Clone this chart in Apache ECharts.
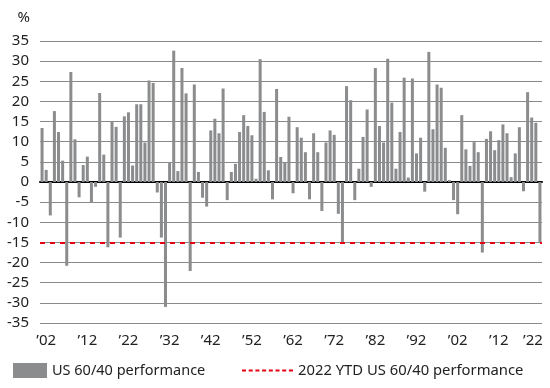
<!DOCTYPE html>
<html><head><meta charset="utf-8">
<script src="https://cdn.jsdelivr.net/npm/echarts@6/dist/echarts.min.js"></script>
<style>html,body{margin:0;padding:0;background:#fff}#c{width:550px;height:388px}</style>
</head><body><div id="c"></div>
<script>
// Categories: calendar years 1901 .. 2022
const startYear = 1901, endYear = 2022;
const years = [];
for (let y = startYear; y <= endYear; y++) years.push(String(y));

// Annual US 60/40 performance, % (1901 .. 2022, 2022 = YTD)
const performance = [
  13.4, 3.0, -8.3, 17.6, 12.4, 5.3, -20.8, 27.3, 10.6, -3.8,   // 1901-1910
  4.2, 6.3, -5.2, -1.2, 22.1, 6.8, -16.2, 15.0, 13.7, -13.8,   // 1911-1920
  16.3, 17.3, 4.1, 19.3, 19.3, 9.8, 25.2, 24.6, -2.6, -13.8,   // 1921-1930
  -31.0, 4.7, 32.6, 2.7, 28.3, 22.0, -22.1, 24.2, 2.5, -3.9,   // 1931-1940
  -6.1, 12.8, 15.7, 12.1, 23.2, -4.5, 2.5, 4.5, 12.4, 16.6,    // 1941-1950
  13.9, 11.6, 0.8, 30.5, 17.4, 2.9, -4.3, 23.1, 6.2, 4.8,      // 1951-1960
  16.2, -2.8, 13.6, 11.0, 7.4, -4.3, 12.1, 7.4, -7.2, 9.8,     // 1961-1970
  12.8, 11.7, -7.9, -15.1, 23.8, 20.3, -4.5, 3.3, 11.2, 18.0,  // 1971-1980
  -1.2, 28.3, 13.9, 9.8, 30.6, 19.7, 3.3, 12.4, 25.9, 1.1,     // 1981-1990
  25.7, 7.1, 11.0, -2.4, 32.3, 13.1, 24.2, 23.4, 8.5, 0.5,     // 1991-2000
  -4.5, -8.0, 16.6, 8.1, 4.0, 9.9, 7.4, -17.5, 10.7, 12.6,     // 2001-2010
  7.9, 10.4, 14.3, 12.1, 1.2, 7.1, 13.6, -2.3, 22.3, 16.0,     // 2011-2020
  14.7, -15.1                                                  // 2021-2022
];

// 2022 YTD reference level, %
const ytdLevel = -15;

// Axis ticks
const tickYears = ['1902','1912','1922','1932','1942','1952','1962','1972','1982','1992','2002','2012','2022'];
const tickLabels = ['\u201902','\u201912','\u201922','\u201932','\u201942','\u201952','\u201962','\u201972','\u201982','\u201992','\u201902','\u201912','\u201922'];
const yMin = -35, yMax = 35, yStep = 5;

const seriesNames = ['US 60/40 performance', '2022 YTD US 60/40 performance'];

const FONT = 'Noto Sans';
const TXT = '#222222';
const BAR = '#8b8c8e';
const GRID = '#8a8a8a';
const RED = '#e60012';

// dashed-line legend glyph (8 dashes across a 51 x 2 box)
const dashIcon = 'path://M0 0H4V2H0Z M6.7 0H10.7V2H6.7Z M13.4 0H17.4V2H13.4Z M20.1 0H24.1V2H20.1Z M26.8 0H30.8V2H26.8Z M33.5 0H37.5V2H33.5Z M40.2 0H44.2V2H40.2Z M46.9 0H51V2H46.9Z';

const chart = echarts.init(document.getElementById('c'), null, {renderer: 'canvas'});
chart.setOption({
  animation: false,
  backgroundColor: '#ffffff',
  textStyle: {fontFamily: FONT},
  grid: {left: 40, right: 8, top: 41, bottom: 65, containLabel: false},
  legend: [
    {
      data: [seriesNames[0]], left: 8, top: 358,
      itemWidth: 34, itemHeight: 15, icon: 'rect',
      textStyle: {fontFamily: FONT, fontSize: 14.5, color: TXT},
      selectedMode: false
    },
    {
      data: [{name: seriesNames[1], icon: dashIcon}], left: 237, top: 358,
      itemWidth: 51, itemHeight: 2,
      textStyle: {fontFamily: FONT, fontSize: 14.8, color: TXT},
      selectedMode: false
    }
  ],
  xAxis: [
    {
      type: 'category', data: years, position: 'bottom', boundaryGap: true,
      axisLine: {show: true, onZero: true, lineStyle: {color: '#000000', width: 2}},
      axisTick: {show: false},
      axisLabel: {show: false},
      splitLine: {show: false}
    },
    {
      type: 'category', data: years, position: 'bottom', boundaryGap: true,
      axisLine: {show: false, onZero: false},
      axisTick: {show: false},
      axisLabel: {
        show: true,
        interval: (i, v) => tickYears.indexOf(v) >= 0,
        formatter: v => {
          const k = tickYears.indexOf(v);
          if (k === tickYears.length - 1) return '{last|' + tickLabels[k] + '}';
          return tickLabels[k];
        },
        rich: {last: {fontFamily: FONT, fontSize: 15, color: TXT, padding: [0, 14, 0, 0]}},
        fontFamily: FONT, fontSize: 15, color: TXT, margin: 10
      },
      splitLine: {show: false}
    }
  ],
  yAxis: {
    type: 'value', min: yMin, max: yMax, interval: yStep,
    name: '%', nameLocation: 'end', nameGap: 16,
    nameTextStyle: {fontFamily: FONT, fontSize: 15, color: TXT, align: 'right', padding: [0, 10, 0, 0]},
    axisLine: {show: false},
    axisTick: {show: false},
    axisLabel: {fontFamily: FONT, fontSize: 15, color: TXT, margin: 11},
    splitLine: {show: true, lineStyle: {color: GRID, width: 1}}
  },
  series: [
    {
      name: seriesNames[0], type: 'bar', xAxisIndex: 0,
      data: performance, barWidth: 3,
      itemStyle: {color: BAR},
      z: 2
    },
    {
      name: seriesNames[1], type: 'bar', xAxisIndex: 1,
      data: [],
      itemStyle: {color: RED},
      markLine: {
        silent: true, symbol: 'none', label: {show: false},
        lineStyle: {color: RED, width: 2, type: [5, 5]},
        data: [{yAxis: ytdLevel}]
      },
      z: 3
    }
  ]
});
</script>
</body></html>
